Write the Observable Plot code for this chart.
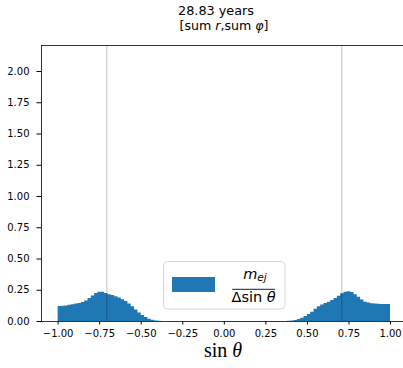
<!DOCTYPE html>
<html><head><meta charset="utf-8">
<script src="https://cdn.jsdelivr.net/npm/d3@7"></script>
<script src="https://cdn.jsdelivr.net/npm/@observablehq/plot@0.6"></script>
<style>body{margin:0;background:#fff}</style>
</head><body><div id="chart"></div>
<script>
// ---- data ----
const titleText = "28.83 years";
const binStart = -1.0;
const binWidth = 0.02;
// bins from -1.00 to 0.00 (width 0.02)
const leftValues = [
  0.120, 0.122, 0.125, 0.130, 0.135, 0.140, 0.145, 0.152, 0.165, 0.185,
  0.205, 0.225, 0.235, 0.235, 0.225, 0.215, 0.208, 0.198, 0.188, 0.175,
  0.160, 0.140, 0.118, 0.092, 0.068, 0.048, 0.032, 0.018, 0.010, 0.005,
  0.002, 0.001, 0, 0, 0, 0, 0, 0, 0, 0,
  0, 0, 0, 0, 0, 0, 0, 0, 0, 0
];
// bins from 0.00 to 1.00 (width 0.02)
const rightValues = [
  0, 0, 0, 0, 0, 0, 0, 0, 0, 0,
  0, 0, 0, 0, 0, 0, 0, 0, 0.001, 0.002,
  0.004, 0.008, 0.016, 0.026, 0.040, 0.056, 0.075, 0.098, 0.118, 0.133,
  0.145, 0.155, 0.168, 0.185, 0.202, 0.222, 0.235, 0.238, 0.232, 0.215,
  0.195, 0.172, 0.155, 0.148, 0.143, 0.140, 0.138, 0.137, 0.136, 0.136
];
const refLines = [-0.7071, 0.7071];
const xTicks = [-1, -0.75, -0.5, -0.25, 0, 0.25, 0.5, 0.75, 1];
const yTicks = [0, 0.25, 0.5, 0.75, 1, 1.25, 1.5, 1.75, 2];
const xDomain = [-1.1, 1.078];
const yDomain = [0, 2.208];

const values = leftValues.concat(rightValues);
// histogram outline as step points at bin edges (seamless bars)
const steps = values.map((v, i) => ({x: binStart + i * binWidth, y: v}));
steps.push({x: binStart + values.length * binWidth, y: values[values.length - 1]});

const blue = "#1f77b4";
const fmt = d3.format(".2f");

const plot = Plot.plot({
  width: 403, height: 368,
  marginLeft: 41, marginRight: 0, marginTop: 45, marginBottom: 47,
  style: {fontFamily: "DejaVu Sans", fontSize: "10px", background: "white", color: "black"},
  x: {domain: xDomain},
  y: {domain: yDomain},
  marks: [
    Plot.areaY(steps, {x: "x", y: "y", fill: blue, curve: "step-after"}),
    Plot.ruleX(refLines, {stroke: "black", strokeOpacity: 0.3, strokeWidth: 0.8}),
    Plot.ruleX([xDomain[0]], {stroke: "black", strokeWidth: 0.8}),
    Plot.ruleY([yDomain[0]], {stroke: "black", strokeWidth: 0.8}),
    Plot.ruleY([yDomain[1]], {stroke: "black", strokeWidth: 0.8}),
    Plot.axisX({ticks: xTicks, tickFormat: fmt, tickSize: 3.5, tickPadding: 5, label: null, fontSize: 10}),
    Plot.axisY({ticks: yTicks, tickFormat: fmt, tickSize: 4.5, tickPadding: 7.5, label: null, fontSize: 10})
  ]
});
document.getElementById("chart").appendChild(plot);

const svg = d3.select(plot);
// titles
svg.append("text").attr("x", 216).attr("y", 14.5).attr("text-anchor", "middle")
  .attr("font-family", "DejaVu Sans").attr("font-size", 12.8).attr("fill", "black").text(titleText);
const sub = svg.append("text").attr("x", 224).attr("y", 29.5).attr("text-anchor", "middle")
  .attr("font-family", "DejaVu Sans").attr("font-size", 12.6).attr("fill", "black");
sub.append("tspan").text("[sum ");
sub.append("tspan").attr("font-style", "italic").text("r");
sub.append("tspan").text(",sum ");
sub.append("tspan").attr("font-style", "italic").text("φ");
sub.append("tspan").text("]");

// x label
const xl = svg.append("text").attr("x", 223).attr("y", 357).attr("text-anchor", "middle")
  .attr("font-family", "Liberation Serif").attr("font-size", 20).attr("fill", "black");
xl.append("tspan").text("sin ");
xl.append("tspan").attr("font-style", "italic").text("θ");

// legend
const lg = svg.append("g");
lg.append("rect").attr("x", 163.5).attr("y", 261.5).attr("width", 121.5).attr("height", 47.5).attr("rx", 4)
  .attr("fill", "white").attr("fill-opacity", 0.8).attr("stroke", "#cccccc").attr("stroke-width", 0.8);
lg.append("rect").attr("x", 172).attr("y", 277).attr("width", 43).attr("height", 15).attr("fill", blue);
const num = lg.append("text").attr("x", 255).attr("y", 278.5).attr("text-anchor", "middle")
  .attr("font-family", "DejaVu Sans").attr("font-size", 14.5).attr("font-style", "italic").attr("fill", "black");
num.append("tspan").text("m");
num.append("tspan").attr("font-size", 10.5).attr("dy", 2.5).text("ej");
lg.append("line").attr("x1", 232.3).attr("x2", 275).attr("y1", 289.3).attr("y2", 289.3).attr("stroke", "black").attr("stroke-width", 0.9);
const den = lg.append("text").attr("x", 253.6).attr("y", 301.5).attr("text-anchor", "middle")
  .attr("font-family", "DejaVu Sans").attr("font-size", 14.5).attr("fill", "black");
den.append("tspan").text("Δsin ");
den.append("tspan").attr("font-style", "italic").text("θ");
</script>
</body></html>
